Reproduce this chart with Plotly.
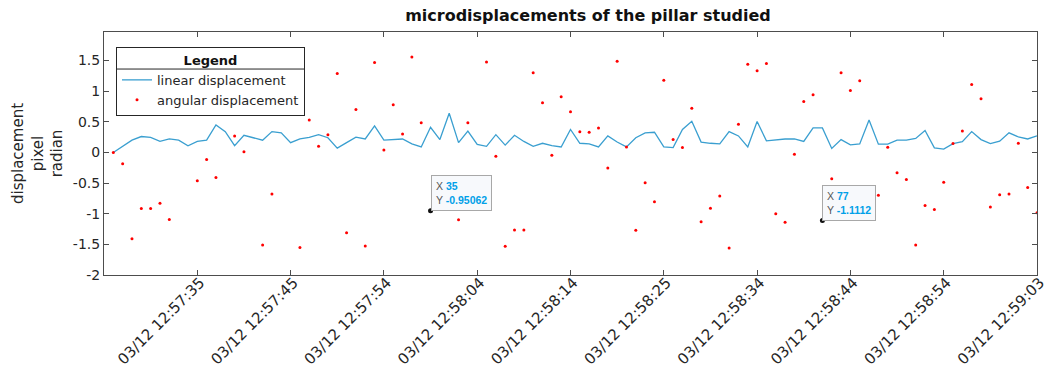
import plotly.graph_objects as go

# ---- data ----
idx = list(range(1, 101))
linear_disp = [0, 0.10, 0.20, 0.26, 0.245, 0.18, 0.22, 0.20, 0.11, 0.18,
               0.20, 0.45, 0.34, 0.11, 0.28, 0.24, 0.20, 0.34, 0.32, 0.16,
               0.22, 0.245, 0.29, 0.24, 0.07, 0.16, 0.25, 0.22, 0.435, 0.20,
               0.21, 0.22, 0.14, 0.09, 0.41, 0.21, 0.64, 0.16, 0.35, 0.13,
               0.10, 0.29, 0.12, 0.28, 0.18, 0.10, 0.15, 0.11, 0.09, 0.375,
               0.15, 0.14, 0.09, 0.27, 0.17, 0.09, 0.24, 0.32, 0.33, 0.09,
               0.08, 0.375, 0.51, 0.17, 0.15, 0.14, 0.34, 0.27, 0.09, 0.505,
               0.19, 0.21, 0.22, 0.22, 0.18, 0.40, 0.40, 0.065, 0.21, 0.125,
               0.14, 0.53, 0.135, 0.135, 0.20, 0.20, 0.23, 0.36, 0.075, 0.055,
               0.145, 0.175, 0.34, 0.21, 0.145, 0.185, 0.32, 0.255, 0.22, 0.27]
angular_disp = [0, -0.185, -1.41, -0.915, -0.915, -0.83, -1.095, 1.2, 0.795, -0.46,
                -0.115, -0.41, 0.795, 0.27, 0.01, 1.0, -1.51, -0.68, 1.1, 1.4,
                -1.55, 0.53, 0.10, 0.29, 1.29, -1.31, 0.70, -1.525, 1.47, 0.04,
                0.78, 0.30, 1.56, 0.485, -0.95062, -0.6, -0.8, -1.10, 0.485, -0.5,
                1.475, -0.06, -1.53, -1.265, -1.265, 1.30, 0.81, -0.045, 0.91, 0.665,
                0.34, 0.33, 0.40, -0.255, 1.49, 0.09, -1.27, -0.495, -0.805, 1.18,
                0.21, 0.08, 0.72, -1.13, -0.91, -0.71, -1.56, 0.46, 1.44, 1.335,
                1.45, -1.00, -1.14, -0.03, 0.83, 0.94, -1.1112, -0.43, 1.30, 1.01,
                1.17, -0.8, -0.7, 0.085, -0.33, -0.44, -1.51, -0.865, -0.93, -0.485,
                0.145, 0.35, 1.11, 0.875, -0.89, -0.69, -0.68, 0.15, -0.57, -0.985]
x_tick_vals = [10, 20, 30, 40, 50, 60, 70, 80, 90, 100]
x_tick_text = ["03/12 12:57:35", "03/12 12:57:45", "03/12 12:57:54", "03/12 12:58:04",
               "03/12 12:58:14", "03/12 12:58:25", "03/12 12:58:34", "03/12 12:58:44",
               "03/12 12:58:54", "03/12 12:59:03"]
y_tick_vals = [-2, -1.5, -1, -0.5, 0, 0.5, 1, 1.5]
y_tick_text = ["-2", "-1.5", "-1", "-0.5", "0", "0.5", "1", "1.5"]
tip_x = [35, 77]
tip_y = [-0.95062, -1.1112]
tip_labels = ["-0.95062", "-1.1112"]

FONT = "DejaVu Sans"
AX = "#4d4d4d"
PLOT_TOP, PLOT_BOTTOM, PLOT_LEFT, PLOT_RIGHT = 32, 274.7, 104, 1037


def px_to_paper_x(px):
    return (px - PLOT_LEFT) / (PLOT_RIGHT - PLOT_LEFT)


def px_to_paper_y(py):
    return (PLOT_BOTTOM - py) / (PLOT_BOTTOM - PLOT_TOP)


fig = go.Figure()
fig.add_trace(go.Scatter(x=idx, y=linear_disp, mode="lines", name="linear displacement",
                         line=dict(color="#3a9fd0", width=1.3)))
fig.add_trace(go.Scatter(x=idx, y=angular_disp, mode="markers", name="angular displacement",
                         marker=dict(color="#ff0000", size=3)))
fig.add_trace(go.Scatter(x=tip_x, y=tip_y, mode="markers", showlegend=False,
                         marker=dict(color="#111111", size=5)))

for tx, ty, tl in zip(tip_x, tip_y, tip_labels):
    fig.add_annotation(
        x=tx, y=ty, xref="x", yref="y", showarrow=False,
        xanchor="left", yanchor="bottom", align="left",
        text=(f"<span style='color:#555555'>X</span> <span style='color:#00a0e8'><b>{tx}</b></span><br>"
              f"<span style='color:#555555'>Y</span> <span style='color:#00a0e8'><b>{tl}</b></span>"),
        font=dict(family="Liberation Sans", size=10.5),
        bgcolor="#f7f9fc", bordercolor="#a8a8a8", borderwidth=1, borderpad=4)

# white legend background (legend itself transparent so the separator shows)
fig.add_shape(type="rect", xref="paper", yref="paper",
              x0=px_to_paper_x(116), x1=px_to_paper_x(305),
              y0=px_to_paper_y(117), y1=px_to_paper_y(47),
              fillcolor="white", line=dict(width=0), layer="above")
# separator line under the legend title
fig.add_shape(type="line", xref="paper", yref="paper",
              x0=px_to_paper_x(116), x1=px_to_paper_x(305),
              y0=px_to_paper_y(69), y1=px_to_paper_y(69),
              line=dict(color="#262626", width=1), layer="above")

fig.update_layout(
    width=1049, height=376,
    margin=dict(l=104, r=12, t=32, b=101, pad=0, autoexpand=False),
    paper_bgcolor="white", plot_bgcolor="white",
    font=dict(family=FONT, size=14, color="#262626"),
    title=dict(text="<b>microdisplacements of the pillar studied</b>", x=0.5605, xanchor="center",
               y=0.96, yanchor="middle", font=dict(family=FONT, size=16, color="#111111")),
    showlegend=True,
    legend=dict(x=px_to_paper_x(116), y=px_to_paper_y(47), xanchor="left", yanchor="top",
                bgcolor="rgba(0,0,0,0)", bordercolor="#262626", borderwidth=1,
                font=dict(family=FONT, size=13, color="#262626"),
                title=dict(text="<b>Legend</b>", side="top center",
                           font=dict(family=FONT, size=13, color="#111111")),
                tracegroupgap=0, itemwidth=30),
    xaxis=dict(range=[0, 100], tickvals=[0] + x_tick_vals, ticktext=[""] + x_tick_text,
               tickangle=-45, ticks="inside", ticklen=5, tickcolor=AX,
               showline=True, linecolor=AX, linewidth=1, mirror="ticks",
               showgrid=False, zeroline=False, tickfont=dict(family=FONT, size=15),
               ticklabelshift=3, ticklabelstandoff=-8,
               automargin=False, ticklabeloverflow="allow"),
    yaxis=dict(range=[-2, 1.966], tickvals=y_tick_vals, ticktext=y_tick_text,
               ticks="inside", ticklen=5, tickcolor=AX,
               showline=True, linecolor=AX, linewidth=1, mirror="ticks",
               showgrid=False, zeroline=False, tickfont=dict(family=FONT, size=14),
               automargin=False,
               title=dict(text="displacement<br>pixel<br>radian", standoff=6,
                          font=dict(family=FONT, size=15))),
)

fig.write_html("out.html")
